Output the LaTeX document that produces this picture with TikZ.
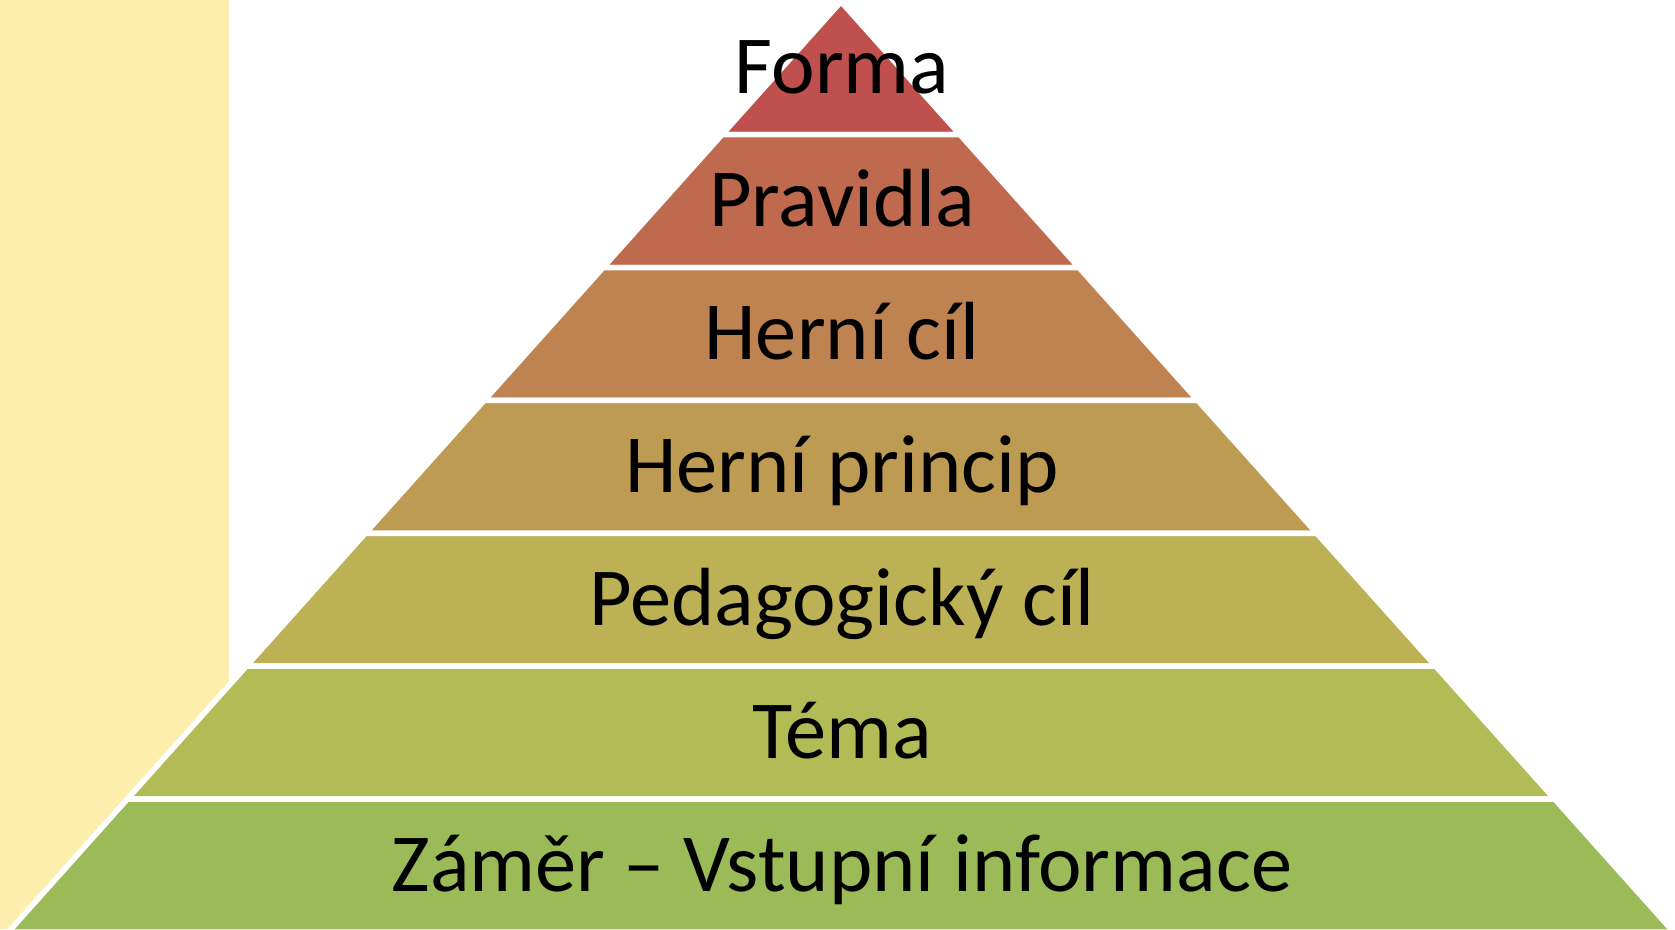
\documentclass[tikz,border=0pt]{standalone}
\usepackage{fontspec}
\setmainfont{Carlito}
\definecolor{bgyellow}{RGB}{254,238,174}
\definecolor{cA}{RGB}{192,80,77}
\definecolor{cB}{RGB}{191,106,79}
\definecolor{cC}{RGB}{190,131,81}
\definecolor{cD}{RGB}{189,155,83}
\definecolor{cE}{RGB}{188,177,85}
\definecolor{cF}{RGB}{177,188,87}
\definecolor{cG}{RGB}{155,187,89}
\begin{document}
\begin{tikzpicture}[x=1pt,y=-1pt,
  band/.style={draw=white, line width=5.5pt, line join=miter},
  lbl/.style={font=\fontsize{82.5}{99}\selectfont, anchor=base, inner sep=0pt, text=black}]
\useasboundingbox (0,0) rectangle (1675,929);
\clip (0,0) rectangle (1675,929);
\fill[bgyellow] (0,0) rectangle (229,929);
% top triangle
\filldraw[band, fill=cA] (841,1.7) -- (841+0.895*132.9,134.6) -- (841-0.895*132.9,134.6) -- cycle;
\foreach \k/\c in {1/cB,2/cC,3/cD,4/cE,5/cF,6/cG} {
  \pgfmathsetmacro\ya{1.7+\k*132.9}
  \pgfmathsetmacro\yb{1.7+(\k+1)*132.9}
  \pgfmathsetmacro\wa{0.895*(\ya-1.7)}
  \pgfmathsetmacro\wb{0.895*(\yb-1.7)}
  \filldraw[band, fill=\c] (841-\wa,\ya) -- (841+\wa,\ya) -- (841+\wb,\yb) -- (841-\wb,\yb) -- cycle;
}
\node[lbl] (forma) at (842,93) {Forma};
\node[lbl] (pravidla) at (842,226) {Pravidla};
\node[lbl] (hernicil) at (842,359) {Herní cíl};
\node[lbl] (herniprincip) at (842,492) {Herní princip};
\node[lbl] (pedcil) at (842,625) {Pedagogický cíl};
\node[lbl] (tema) at (842,758) {Téma};
\node[lbl] (zamer) at (842,891) {Záměr – Vstupní informace};
\end{tikzpicture}
\end{document}
